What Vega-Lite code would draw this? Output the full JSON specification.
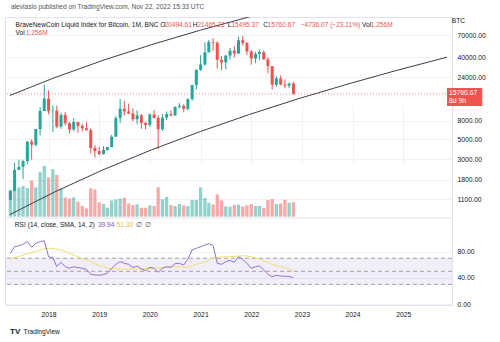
{
  "$schema": "https://vega.github.io/schema/vega-lite/v6.json",
  "width": 447,
  "height": 288,
  "autosize": {"type": "none"},
  "padding": {"left": 5, "top": 17, "right": 48, "bottom": 37},
  "background": "#ffffff",
  "config": {
    "view": {"stroke": "#e0e3eb"},
    "font": "Liberation Sans",
    "axis": {"labelFont": "Liberation Sans", "labelFontSize": 6.8, "labelColor": "#131722", "gridColor": "#eef1f6", "domain": false, "ticks": false}
  },
  "datasets": {
    "bars": [
      {"d":"2017-04-01","o":1080,"h":1350,"l":1060,"c":1350,"v":2.31,"dir":"up","r":77.5,"s":69.9},
      {"d":"2017-05-01","o":1350,"h":2760,"l":1340,"c":2300,"v":2.45,"dir":"up","r":87.6,"s":71},
      {"d":"2017-06-01","o":2300,"h":2980,"l":2300,"c":2480,"v":2.54,"dir":"up","r":89.1,"s":73},
      {"d":"2017-07-01","o":2480,"h":2950,"l":1830,"c":2875,"v":2.66,"dir":"up","r":91.3,"s":75},
      {"d":"2017-08-01","o":2875,"h":4780,"l":2650,"c":4700,"v":2.49,"dir":"up","r":95.3,"s":77},
      {"d":"2017-09-01","o":4700,"h":4980,"l":2980,"c":4340,"v":3.12,"dir":"down","r":86.7,"s":78.5},
      {"d":"2017-10-01","o":4340,"h":6470,"l":4160,"c":6470,"v":2.54,"dir":"up","r":92.8,"s":80.5},
      {"d":"2017-11-01","o":6470,"h":11300,"l":5500,"c":10200,"v":3.87,"dir":"up","r":95.3,"s":82.5},
      {"d":"2017-12-01","o":10200,"h":19800,"l":10400,"c":14000,"v":4.39,"dir":"up","r":96.8,"s":84.5},
      {"d":"2018-01-01","o":14000,"h":17200,"l":9400,"c":10200,"v":3.40,"dir":"down","r":72.3,"s":85.1},
      {"d":"2018-02-01","o":10200,"h":11800,"l":6000,"c":10300,"v":4.10,"dir":"up","r":70.8,"s":84.8},
      {"d":"2018-03-01","o":10300,"h":11700,"l":6600,"c":6900,"v":3.61,"dir":"down","r":57.1,"s":84},
      {"d":"2018-04-01","o":6900,"h":9800,"l":6500,"c":9250,"v":2.45,"dir":"up","r":63.8,"s":82.5},
      {"d":"2018-05-01","o":9250,"h":9990,"l":7050,"c":7500,"v":1.67,"dir":"down","r":57.1,"s":80.5},
      {"d":"2018-06-01","o":7500,"h":7750,"l":5780,"c":6400,"v":1.58,"dir":"down","r":54.6,"s":77.5},
      {"d":"2018-07-01","o":6400,"h":8500,"l":6100,"c":7730,"v":1.67,"dir":"up","r":57.1,"s":75},
      {"d":"2018-08-01","o":7730,"h":7760,"l":5880,"c":7000,"v":1.30,"dir":"down","r":55.6,"s":72},
      {"d":"2018-09-01","o":7000,"h":7400,"l":6100,"c":6600,"v":0.93,"dir":"down","r":54.6,"s":69.5},
      {"d":"2018-10-01","o":6600,"h":7700,"l":6200,"c":6300,"v":0.72,"dir":"down","r":53.1,"s":67.3},
      {"d":"2018-11-01","o":6300,"h":6600,"l":3500,"c":4000,"v":2.45,"dir":"down","r":45.4,"s":64.5},
      {"d":"2018-12-01","o":4000,"h":4300,"l":3150,"c":3700,"v":2.36,"dir":"down","r":44.4,"s":61.5},
      {"d":"2019-01-01","o":3700,"h":4100,"l":3350,"c":3440,"v":1.24,"dir":"down","r":44,"s":58.5},
      {"d":"2019-02-01","o":3440,"h":4200,"l":3380,"c":3820,"v":1.10,"dir":"up","r":45,"s":57},
      {"d":"2019-03-01","o":3820,"h":4130,"l":3720,"c":4100,"v":0.78,"dir":"up","r":46.9,"s":55.5},
      {"d":"2019-04-01","o":4100,"h":5600,"l":4080,"c":5330,"v":1.41,"dir":"up","r":54.6,"s":53.8},
      {"d":"2019-05-01","o":5330,"h":9000,"l":5300,"c":8560,"v":1.50,"dir":"up","r":60.5,"s":53.5},
      {"d":"2019-06-01","o":8560,"h":13800,"l":7500,"c":10800,"v":1.56,"dir":"up","r":64.7,"s":53.3},
      {"d":"2019-07-01","o":10800,"h":13200,"l":9100,"c":10100,"v":1.65,"dir":"down","r":62.2,"s":53.2},
      {"d":"2019-08-01","o":10100,"h":12300,"l":9400,"c":9600,"v":1.15,"dir":"down","r":60.7,"s":53.2},
      {"d":"2019-09-01","o":9600,"h":10900,"l":7800,"c":8300,"v":1.01,"dir":"down","r":55.6,"s":53.3},
      {"d":"2019-10-01","o":8300,"h":10400,"l":7300,"c":9150,"v":1.07,"dir":"up","r":58.1,"s":53.5},
      {"d":"2019-11-01","o":9150,"h":9500,"l":6500,"c":7550,"v":0.78,"dir":"down","r":53.6,"s":53.6},
      {"d":"2019-12-01","o":7550,"h":7750,"l":6430,"c":7200,"v":0.78,"dir":"down","r":51.1,"s":53.8},
      {"d":"2020-01-01","o":7200,"h":9580,"l":6850,"c":9350,"v":0.98,"dir":"up","r":56.1,"s":54.3},
      {"d":"2020-02-01","o":9350,"h":10500,"l":8450,"c":8550,"v":0.92,"dir":"down","r":54.6,"s":54.8},
      {"d":"2020-03-01","o":8550,"h":9190,"l":3850,"c":6430,"v":2.54,"dir":"down","r":48.4,"s":55.2},
      {"d":"2020-04-01","o":6430,"h":9460,"l":6150,"c":8630,"v":1.50,"dir":"up","r":54.6,"s":55.7},
      {"d":"2020-05-01","o":8630,"h":10080,"l":8150,"c":9450,"v":1.71,"dir":"up","r":57.1,"s":56.2},
      {"d":"2020-06-01","o":9450,"h":10400,"l":8900,"c":9140,"v":1.01,"dir":"down","r":56.1,"s":57},
      {"d":"2020-07-01","o":9140,"h":11450,"l":8990,"c":11350,"v":0.93,"dir":"up","r":61.7,"s":57},
      {"d":"2020-08-01","o":11350,"h":12480,"l":10950,"c":11650,"v":1.10,"dir":"up","r":62.2,"s":56.5},
      {"d":"2020-09-01","o":11650,"h":12100,"l":9900,"c":10780,"v":0.98,"dir":"down","r":59.6,"s":56.1},
      {"d":"2020-10-01","o":10780,"h":14100,"l":10400,"c":13800,"v":0.93,"dir":"up","r":68.8,"s":56.5},
      {"d":"2020-11-01","o":13800,"h":19900,"l":13200,"c":19700,"v":1.45,"dir":"up","r":82.6,"s":58.5},
      {"d":"2020-12-01","o":19700,"h":29300,"l":17600,"c":29000,"v":1.45,"dir":"up","r":85.1,"s":60.8},
      {"d":"2021-01-01","o":29000,"h":41900,"l":28100,"c":33100,"v":2.54,"dir":"up","r":87.6,"s":62.2},
      {"d":"2021-02-01","o":33100,"h":58300,"l":32300,"c":45200,"v":1.62,"dir":"up","r":90.2,"s":64.5},
      {"d":"2021-03-01","o":45200,"h":61700,"l":45000,"c":58800,"v":1.21,"dir":"up","r":92.2,"s":67.5},
      {"d":"2021-04-01","o":58800,"h":64800,"l":47000,"c":57700,"v":1.07,"dir":"down","r":89.1,"s":70.5},
      {"d":"2021-05-01","o":57700,"h":59500,"l":30000,"c":37300,"v":1.93,"dir":"down","r":62.2,"s":71.5},
      {"d":"2021-06-01","o":37300,"h":41300,"l":28800,"c":35000,"v":1.41,"dir":"down","r":60.7,"s":71.8},
      {"d":"2021-07-01","o":35000,"h":42400,"l":29300,"c":41500,"v":0.89,"dir":"up","r":64.7,"s":72},
      {"d":"2021-08-01","o":41500,"h":50500,"l":37300,"c":47100,"v":0.87,"dir":"up","r":66.8,"s":72.3},
      {"d":"2021-09-01","o":47100,"h":52900,"l":39600,"c":43800,"v":1.01,"dir":"down","r":63.7,"s":72.8},
      {"d":"2021-10-01","o":43800,"h":67000,"l":43300,"c":61300,"v":1.04,"dir":"up","r":72.3,"s":73.3},
      {"d":"2021-11-01","o":61300,"h":69000,"l":53300,"c":57000,"v":0.89,"dir":"down","r":68.3,"s":73.8},
      {"d":"2021-12-01","o":57000,"h":59000,"l":42000,"c":46200,"v":0.98,"dir":"down","r":62.2,"s":73.5},
      {"d":"2022-01-01","o":46200,"h":47900,"l":32900,"c":38500,"v":1.10,"dir":"down","r":54.6,"s":72},
      {"d":"2022-02-01","o":38500,"h":45800,"l":34300,"c":43200,"v":0.93,"dir":"up","r":57.1,"s":70},
      {"d":"2022-03-01","o":43200,"h":48200,"l":37200,"c":45500,"v":0.93,"dir":"up","r":58.1,"s":68.5},
      {"d":"2022-04-01","o":45500,"h":47400,"l":37600,"c":37700,"v":0.75,"dir":"down","r":52.1,"s":66},
      {"d":"2022-05-01","o":37700,"h":40000,"l":26700,"c":31800,"v":1.45,"dir":"down","r":45.4,"s":63.5},
      {"d":"2022-06-01","o":31800,"h":31900,"l":17600,"c":19900,"v":1.53,"dir":"down","r":41.8,"s":60.5},
      {"d":"2022-07-01","o":19900,"h":24600,"l":18800,"c":23300,"v":1.10,"dir":"up","r":43.8,"s":58.5},
      {"d":"2022-08-01","o":23300,"h":25200,"l":19600,"c":20000,"v":1.15,"dir":"down","r":42.8,"s":57},
      {"d":"2022-09-01","o":20000,"h":22700,"l":18200,"c":19400,"v":1.47,"dir":"down","r":42.3,"s":55},
      {"d":"2022-10-01","o":19400,"h":20900,"l":18200,"c":20500,"v":1.21,"dir":"up","r":42.3,"s":53.2},
      {"d":"2022-11-01","o":20494.61,"h":21465.22,"l":15495.37,"c":15760.67,"v":1.256,"dir":"down","r":39.94,"s":51.3}
    ],
    "trend": [
      {"g":"lower","d":"2017-03-29","p":742},
      {"g":"lower","d":"2018-02-09","p":1305},
      {"g":"lower","d":"2019-01-27","p":2297},
      {"g":"lower","d":"2020-01-15","p":3831},
      {"g":"lower","d":"2021-01-01","p":6089},
      {"g":"lower","d":"2021-12-20","p":9367},
      {"g":"lower","d":"2022-12-07","p":13944},
      {"g":"lower","d":"2023-11-24","p":20127},
      {"g":"lower","d":"2024-11-11","p":28483},
      {"g":"lower","d":"2025-11-12","p":39895},
      {"g":"upper","d":"2017-03-29","p":15160},
      {"g":"upper","d":"2018-02-09","p":23620},
      {"g":"upper","d":"2019-01-27","p":36790},
      {"g":"upper","d":"2020-01-15","p":54890},
      {"g":"upper","d":"2021-01-01","p":79250},
      {"g":"upper","d":"2021-12-20","p":111000},
      {"g":"upper","d":"2022-12-07","p":151600}
    ],
    "ptext": [
      {"t":"alevlaslo published on TradingView.com, Nov 22, 2022 15:33 UTC","d":"2017-04-05","p":142200,"k":"muted"},
      {"t":"BraveNewCoin Liquid Index for Bitcoin, 1M, BNC","d":"2017-05-08","p":91300,"k":"label"},
      {"t":"O","d":"2020-03-16","p":91300,"k":"label"},
      {"t":"20494.61","d":"2020-04-15","p":91300,"k":"value"},
      {"t":"H","d":"2020-11-06","p":91300,"k":"label"},
      {"t":"21465.22","d":"2020-12-09","p":91300,"k":"value"},
      {"t":"L","d":"2021-07-15","p":91300,"k":"label"},
      {"t":"15495.37","d":"2021-08-11","p":91300,"k":"value"},
      {"t":"C","d":"2022-03-28","p":91300,"k":"label"},
      {"t":"15760.67","d":"2022-04-29","p":91300,"k":"value"},
      {"t":"−4736.07 (−23.11%)","d":"2022-12-23","p":91300,"k":"value"},
      {"t":"Vol","d":"2024-03-09","p":91300,"k":"label"},
      {"t":"1.256M","d":"2024-05-11","p":91300,"k":"value"},
      {"t":"Vol","d":"2017-05-08","p":73080,"k":"label"},
      {"t":"1.256M","d":"2017-07-20","p":73080,"k":"value"},
      {"t":"BTC","d":"2025-12-17","p":99800,"k":"label"}
    ],
    "box": [{"d":"2025-11-12","d2":"2026-07-24","p":18280,"p2":11590}],
    "boxtext": [
      {"t":"15760.67","d":"2025-11-26","p":16230,"k":"white"},
      {"t":"8d 9h","d":"2025-11-26","p":13150,"k":"white"}
    ],
    "rtext": [
      {"t":"RSI (14, close, SMA, 14, 2)","d":"2017-05-03","r":120.8,"k":"label"},
      {"t":"39.94","d":"2018-12-23","r":120.8,"k":"rsi"},
      {"t":"51.30","d":"2019-05-06","r":120.8,"k":"sma"},
      {"t":"∅","d":"2019-09-24","r":120.8,"k":"muted"},
      {"t":"∅","d":"2019-11-26","r":120.8,"k":"muted"},
      {"t":"TradingView","d":"2017-07-05","r":-42.8,"k":"label"}
    ],
    "logo": [{"t":"TV","d":"2017-03-29","r":-42.8,"k":"label"}],
    "levels": [{"lv":70},{"lv":50},{"lv":30}],
    "one": [{}]
  },
  "layer": [
    {
      "data": {"name": "one"},
      "mark": {"type": "rect", "color": "#7e57c2", "opacity": 0.1},
      "encoding": {
        "y": {"datum": 70, "type": "quantitative", "scale": {"type": "linear", "domain": [0, 100], "range": [287, 221.6], "nice": false, "zero": false}, "axis": null},
        "y2": {"datum": 30}
      }
    },
    {
      "data": {"name": "bars"},
      "mark": {"type": "bar", "size": 3.3, "opacity": 0.5},
      "encoding": {
        "x": {"field": "d", "type": "temporal", "scale": {"type": "utc", "domain": [{"year": 2017, "month": 3, "date": 29, "utc": true}, {"year": 2025, "month": 11, "date": 12, "utc": true}]},
          "axis": {"title": null, "format": "%Y", "grid": true, "labelPadding": 6, "labelFontSize": 6.8,
            "values": [{"year":2018,"month":1,"date":1,"utc":true},{"year":2019,"month":1,"date":1,"utc":true},{"year":2020,"month":1,"date":1,"utc":true},{"year":2021,"month":1,"date":1,"utc":true},{"year":2022,"month":1,"date":1,"utc":true},{"year":2023,"month":1,"date":1,"utc":true},{"year":2024,"month":1,"date":1,"utc":true},{"year":2025,"month":1,"date":1,"utc":true}]}},
        "y": {"field": "v", "type": "quantitative", "scale": {"type": "linear", "domain": [0, 5], "range": [199.7, 142], "nice": false, "zero": false}, "axis": null},
        "y2": {"datum": 0},
        "color": {"field": "dir", "type": "nominal", "legend": null, "scale": {"domain": ["up","down","label","value","muted","white","rsi","sma"], "range": ["#26a69a","#ef5350","#131722","#ef5350","#50535e","#ffffff","#7e57c2","#e3c22e"]}}
      }
    },
    {
      "data": {"name": "levels"},
      "mark": {"type": "rule", "strokeDash": [4, 3], "color": "#8a8d96", "strokeWidth": 1, "opacity": 0.8},
      "encoding": {
        "y": {"field": "lv", "type": "quantitative", "scale": {"type": "linear", "domain": [0, 100], "range": [287, 221.6], "nice": false, "zero": false},
          "axis": {"orient": "right", "values": [0, 40, 80], "format": ".2f", "grid": true, "labelPadding": 5, "title": null}}
      }
    },
    {
      "data": {"name": "one"},
      "mark": {"type": "rule", "color": "#e0e3eb", "strokeWidth": 1},
      "encoding": {
        "y": {"datum": 679, "type": "quantitative", "scale": {"type": "log", "domain": [1100, 70000], "range": [182, 18], "nice": false, "zero": false}, "axis": null}
      }
    },
    {
      "data": {"name": "bars"},
      "mark": {"type": "rule", "strokeWidth": 1},
      "encoding": {
        "x": {"field": "d", "type": "temporal"},
        "y": {"field": "l", "type": "quantitative", "scale": {"type": "log", "domain": [1100, 70000], "range": [182, 18], "nice": false, "zero": false}, "axis": null},
        "y2": {"field": "h"},
        "color": {"field": "dir", "type": "nominal", "legend": null}
      }
    },
    {
      "data": {"name": "bars"},
      "mark": {"type": "bar", "size": 3},
      "encoding": {
        "x": {"field": "d", "type": "temporal"},
        "y": {"field": "o", "type": "quantitative", "scale": {"type": "log", "domain": [1100, 70000], "range": [182, 18], "nice": false, "zero": false},
          "axis": {"orient": "right", "values": [1100, 1800, 3000, 5000, 8000, 24000, 40000, 70000], "format": ".2f", "grid": true, "labelPadding": 5, "title": null}},
        "y2": {"field": "c"},
        "color": {"field": "dir", "type": "nominal", "legend": null}
      }
    },
    {
      "data": {"name": "one"},
      "mark": {"type": "rule", "color": "#ef5350", "strokeDash": [1, 2], "strokeWidth": 1, "opacity": 0.7},
      "encoding": {
        "y": {"datum": 15760.67, "type": "quantitative", "scale": {"type": "log", "domain": [1100, 70000], "range": [182, 18], "nice": false, "zero": false}, "axis": null}
      }
    },
    {
      "data": {"name": "trend"},
      "mark": {"type": "line", "color": "#3a3e4a", "strokeWidth": 1, "clip": true},
      "encoding": {
        "x": {"field": "d", "type": "temporal"},
        "y": {"field": "p", "type": "quantitative", "scale": {"type": "log", "domain": [1100, 70000], "range": [182, 18], "nice": false, "zero": false}, "axis": null},
        "detail": {"field": "g"}
      }
    },
    {
      "data": {"name": "bars"},
      "mark": {"type": "line", "color": "#f2de6a", "strokeWidth": 1},
      "encoding": {
        "x": {"field": "d", "type": "temporal"},
        "y": {"field": "s", "type": "quantitative", "scale": {"type": "linear", "domain": [0, 100], "range": [287, 221.6], "nice": false, "zero": false}, "axis": null}
      }
    },
    {
      "data": {"name": "bars"},
      "mark": {"type": "line", "color": "#8e72cf", "strokeWidth": 1},
      "encoding": {
        "x": {"field": "d", "type": "temporal"},
        "y": {"field": "r", "type": "quantitative", "scale": {"type": "linear", "domain": [0, 100], "range": [287, 221.6], "nice": false, "zero": false}, "axis": null}
      }
    },
    {
      "data": {"name": "ptext"},
      "mark": {"type": "text", "align": "left", "baseline": "middle", "fontSize": 6.6, "font": "Liberation Sans"},
      "encoding": {
        "x": {"field": "d", "type": "temporal"},
        "y": {"field": "p", "type": "quantitative", "scale": {"type": "log", "domain": [1100, 70000], "range": [182, 18], "nice": false, "zero": false}, "axis": null},
        "text": {"field": "t"},
        "color": {"field": "k", "type": "nominal", "legend": null}
      }
    },
    {
      "data": {"name": "box"},
      "mark": {"type": "rect", "color": "#ef5350"},
      "encoding": {
        "x": {"field": "d", "type": "temporal"},
        "x2": {"field": "d2"},
        "y": {"field": "p", "type": "quantitative", "scale": {"type": "log", "domain": [1100, 70000], "range": [182, 18], "nice": false, "zero": false}, "axis": null},
        "y2": {"field": "p2"}
      }
    },
    {
      "data": {"name": "boxtext"},
      "mark": {"type": "text", "align": "left", "baseline": "middle", "fontSize": 6.8, "font": "Liberation Sans"},
      "encoding": {
        "x": {"field": "d", "type": "temporal"},
        "y": {"field": "p", "type": "quantitative", "scale": {"type": "log", "domain": [1100, 70000], "range": [182, 18], "nice": false, "zero": false}, "axis": null},
        "text": {"field": "t"},
        "color": {"field": "k", "type": "nominal", "legend": null}
      }
    },
    {
      "data": {"name": "rtext"},
      "mark": {"type": "text", "align": "left", "baseline": "middle", "fontSize": 6.6, "font": "Liberation Sans"},
      "encoding": {
        "x": {"field": "d", "type": "temporal"},
        "y": {"field": "r", "type": "quantitative", "scale": {"type": "linear", "domain": [0, 100], "range": [287, 221.6], "nice": false, "zero": false}, "axis": null},
        "text": {"field": "t"},
        "color": {"field": "k", "type": "nominal", "legend": null}
      }
    },
    {
      "data": {"name": "logo"},
      "mark": {"type": "text", "align": "left", "baseline": "middle", "fontSize": 8, "fontWeight": "bold", "font": "Liberation Sans"},
      "encoding": {
        "x": {"field": "d", "type": "temporal"},
        "y": {"field": "r", "type": "quantitative", "scale": {"type": "linear", "domain": [0, 100], "range": [287, 221.6], "nice": false, "zero": false}, "axis": null},
        "text": {"field": "t"},
        "color": {"field": "k", "type": "nominal", "legend": null}
      }
    }
  ],
  "resolve": {"scale": {"y": "independent"}, "axis": {"y": "independent"}}
}
